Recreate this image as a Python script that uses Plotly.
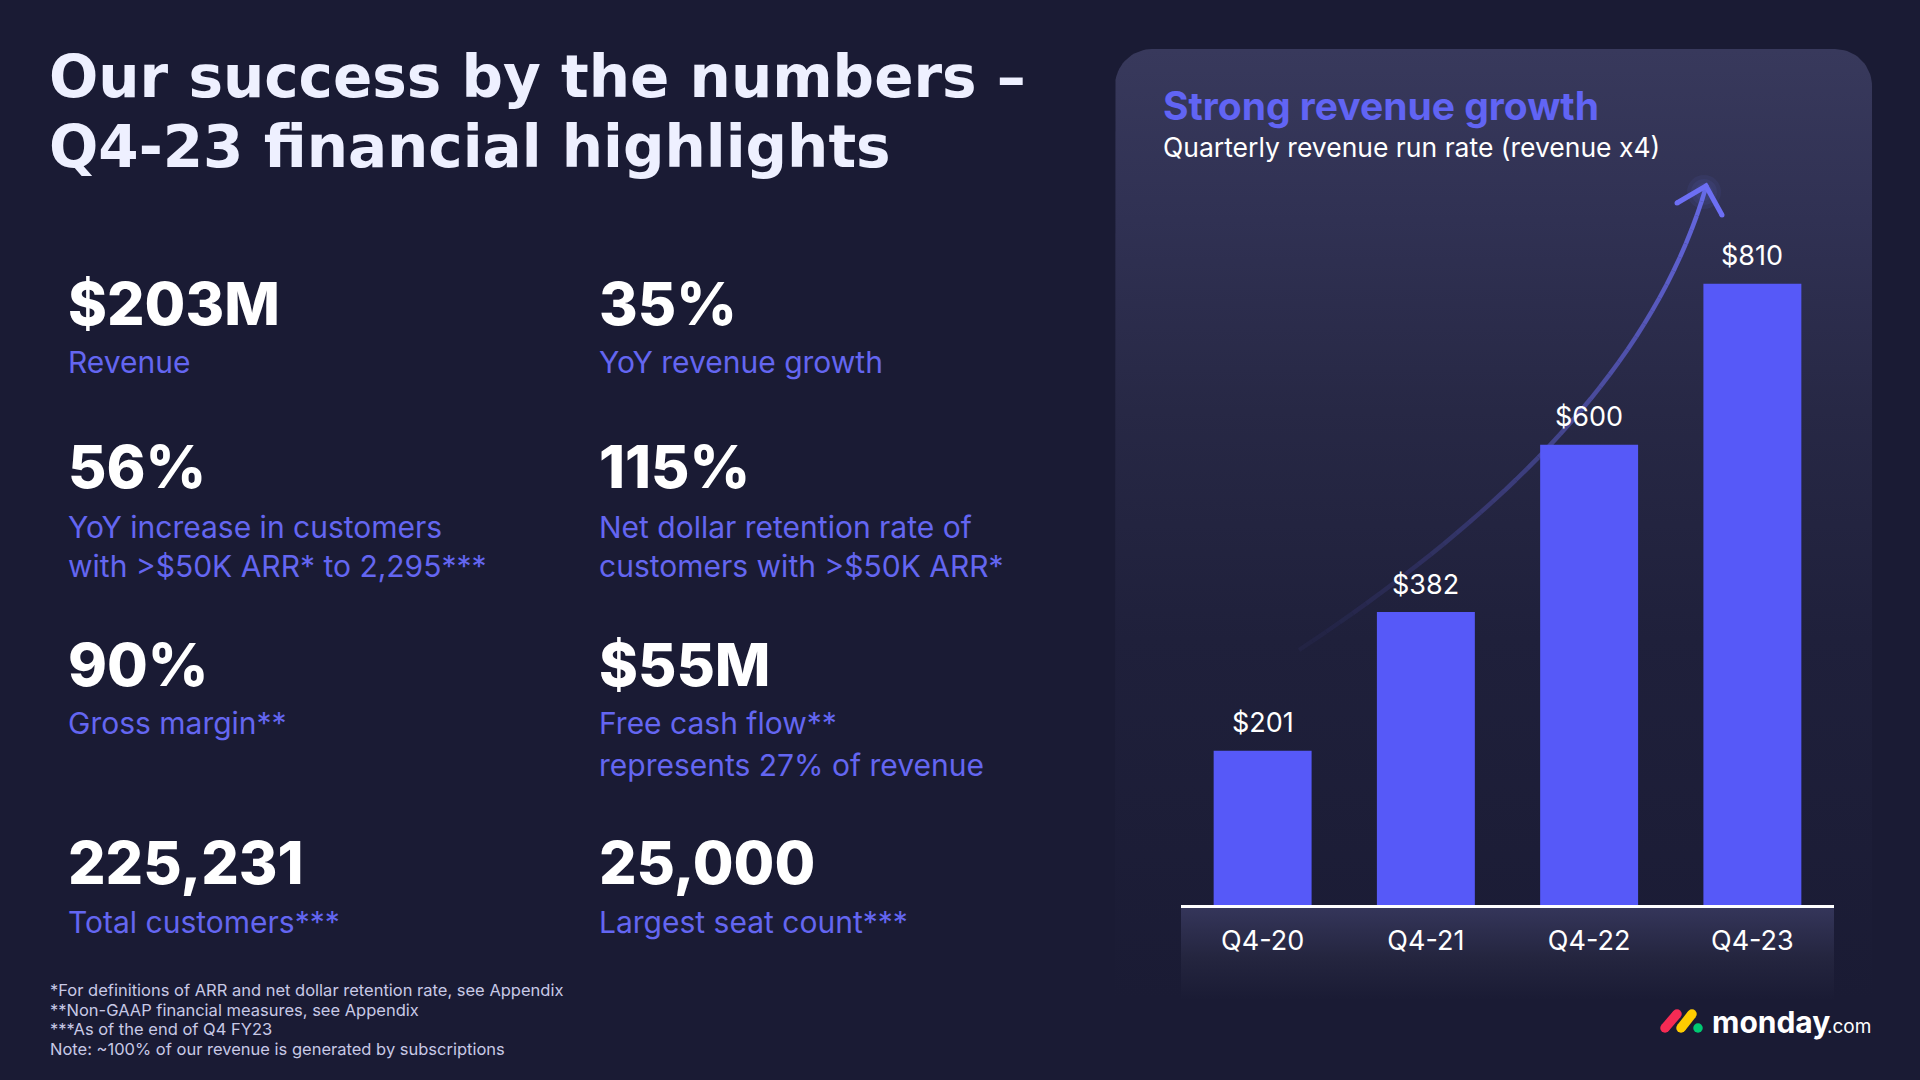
import numpy as np
import plotly.graph_objects as go

# ---------------- data ----------------
quarters = ["Q4-20", "Q4-21", "Q4-22", "Q4-23"]
run_rate = [201, 382, 600, 810]
run_rate_labels = ["$201", "$382", "$600", "$810"]

kpi_values = ["$203M", "35%", "56%", "115%", "90%", "$55M", "225,231", "25,000"]
kpi_labels = [
    ["Revenue"],
    ["YoY revenue growth"],
    ["YoY increase in customers", "with >$50K ARR* to 2,295***"],
    ["Net dollar retention rate of", "customers with >$50K ARR*"],
    ["Gross margin**"],
    ["Free cash flow**", "represents 27% of revenue"],
    ["Total customers***"],
    ["Largest seat count***"],
]
footnotes = [
    "*For definitions of ARR and net dollar retention rate, see Appendix",
    "**Non-GAAP financial measures, see Appendix",
    "***As of the end of Q4 FY23",
    "Note: ~100% of our revenue is generated by subscriptions",
]
title_lines = ["Our success by the numbers \u2013", "Q4-23 financial highlights"]
panel_title = "Strong revenue growth"
panel_subtitle = "Quarterly revenue run rate (revenue x4)"

# ---------------- style ----------------
W, H = 1920, 1080
BG = "#1a1b34"
BAR = "#5659f8"
ACCENT = "#6466f1"
FONT = "Inter"
TITLE_FONT = "DejaVu Sans"

fig = go.Figure()

# --- pixel-space helper subplot (xy) for decorative panel ---
r = 37
x0p, x1p, y0p, y1p = 1115, 1872, 49, 1000
ang = np.linspace(np.pi, 1.5 * np.pi, 20)
left_arc_x = x0p + r + r * np.cos(ang)
left_arc_y = y0p + r + r * np.sin(ang)
ang2 = np.linspace(1.5 * np.pi, 2 * np.pi, 20)
right_arc_x = x1p - r + r * np.cos(ang2)
right_arc_y = y0p + r + r * np.sin(ang2)
px = np.concatenate([[x0p], left_arc_x, right_arc_x, [x1p, x0p]])
py = np.concatenate([[y1p], left_arc_y, right_arc_y, [y1p, y1p]])
fig.add_trace(go.Scatter(
    x=px, y=py, mode="lines", fill="toself", line=dict(width=0, color="rgba(0,0,0,0)"),
    fillgradient=dict(type="vertical", start=y0p, stop=y1p,
                      colorscale=[[0, "#38395c"], [0.18, "#303153"], [0.38, "#272845"],
                                  [0.62, "#1f203b"], [1, BG]]),
    hoverinfo="skip", showlegend=False, xaxis="x", yaxis="y"))

# band below the axis
bx = [1181, 1834, 1834, 1181, 1181]
by = [906, 906, 1000, 1000, 906]
fig.add_trace(go.Scatter(
    x=bx, y=by, mode="lines", fill="toself", line=dict(width=0, color="rgba(0,0,0,0)"),
    fillgradient=dict(type="vertical", start=906, stop=1000,
                      colorscale=[[0, "#35365b"], [0.55, "#24253f"], [1, BG]]),
    hoverinfo="skip", showlegend=False, xaxis="x", yaxis="y"))

# growth arrow (decorative, fading bezier)
P0, P1, P2, P3 = np.array([1299, 650]), np.array([1480, 530]), np.array([1650, 380]), np.array([1706, 187])
ts = np.linspace(0, 1, 121)
pts = np.array([(1 - t) ** 3 * P0 + 3 * (1 - t) ** 2 * t * P1 + 3 * (1 - t) * t ** 2 * P2 + t ** 3 * P3 for t in ts])
nseg = 40
step = (len(pts) - 1) // nseg
for i in range(nseg):
    seg = pts[i * step:(i + 1) * step + 1]
    a = 0.05 + 0.85 * (i / (nseg - 1)) ** 1.3
    fig.add_trace(go.Scatter(x=seg[:, 0], y=seg[:, 1], mode="lines",
                             line=dict(color=f"rgba(108,110,242,{a:.3f})", width=4.5),
                             hoverinfo="skip", showlegend=False, xaxis="x", yaxis="y"))
# soft glow + arrow head
for sz in (34, 26, 18):
    fig.add_trace(go.Scatter(x=[1704], y=[192], mode="markers",
                             marker=dict(size=sz, color="rgba(120,122,250,0.07)", line=dict(width=0)),
                             hoverinfo="skip", showlegend=False, xaxis="x", yaxis="y"))
fig.add_trace(go.Scatter(x=[1677, 1706, 1722], y=[203, 186, 215], mode="lines+markers",
                         line=dict(color="#6d6ff4", width=5),
                         marker=dict(size=5, color="#6d6ff4"),
                         hoverinfo="skip", showlegend=False, xaxis="x", yaxis="y"))

# logo mark
for (xa, ya, xb, yb, c) in [(1665, 1028, 1677, 1014, "#f62b54"), (1681, 1028, 1692, 1014, "#ffcc00")]:
    fig.add_trace(go.Scatter(x=[xa, xb], y=[ya, yb], mode="lines+markers",
                             line=dict(color=c, width=9.5), marker=dict(size=9.5, color=c),
                             hoverinfo="skip", showlegend=False, xaxis="x", yaxis="y"))
fig.add_trace(go.Scatter(x=[1698], y=[1028], mode="markers", marker=dict(size=9.5, color="#00ca72"),
                         hoverinfo="skip", showlegend=False, xaxis="x", yaxis="y"))

# --- bar chart (x2y2) ---
fig.add_trace(go.Bar(
    x=quarters, y=run_rate, xaxis="x2", yaxis="y2",
    marker=dict(color=BAR, line=dict(width=0)), width=0.6,
    hoverinfo="skip", showlegend=False))

annotations = []
for q, v, lab in zip(quarters, run_rate, run_rate_labels):
    annotations.append(dict(x=q, y=v, xref="x2", yref="y2", text=lab, showarrow=False,
                            yanchor="middle", xanchor="center", yshift=28,
                            font=dict(family=FONT, size=27, color="white")))


def ann(x, y, text, size, color, weight=400, xanchor="left", family=FONT):
    annotations.append(dict(x=x / W, y=1 - y / H, xref="paper", yref="paper", text=text,
                            showarrow=False, xanchor=xanchor, yanchor="middle", align="left",
                            font=dict(family=family, size=size, color=color, weight=weight)))


# title
ann(47, 77, title_lines[0], 58, "#eef0ff", 700, family=TITLE_FONT)
ann(47, 147, title_lines[1], 58, "#eef0ff", 700, family=TITLE_FONT)

# KPIs
col_x = [66, 597]
row_big_y = [303, 467, 664, 862]
row_lab_y = [362, 527, 723, 922]
line_gap = [0, 39, 42, 0]
for i, (val, labs) in enumerate(zip(kpi_values, kpi_labels)):
    row, col = i // 2, i % 2
    ann(col_x[col], row_big_y[row], val, 59, "white", 800)
    for j, l in enumerate(labs):
        ann(col_x[col], row_lab_y[row] + j * line_gap[row], l, 30, ACCENT, 400)

# panel texts
ann(1161, 106, panel_title, 39, "#6164f4", 700)
ann(1161, 147, panel_subtitle, 26.5, "white", 400)

# footnotes
for k, t in enumerate(footnotes):
    ann(48, 990 + k * 19.6, t, 16.5, "#c8c9e6", 400)

# logo text
ann(1710, 1022, "monday", 30, "white", 700)
ann(1873, 1026, ".com", 19, "white", 400, xanchor="right")

fig.update_layout(
    width=W, height=H, margin=dict(l=0, r=0, t=0, b=0),
    paper_bgcolor=BG, plot_bgcolor="rgba(0,0,0,0)",
    showlegend=False, annotations=annotations,
    xaxis=dict(domain=[0, 1], range=[0, W], visible=False, fixedrange=True),
    yaxis=dict(domain=[0, 1], range=[H, 0], visible=False, fixedrange=True),
    xaxis2=dict(domain=[1181 / W, 1834 / W], anchor="y2", type="category",
                showline=True, linecolor="white", linewidth=2.5, showgrid=False,
                zeroline=False, ticks="", ticklabelstandoff=10,
                tickfont=dict(family=FONT, size=27, color="white"), fixedrange=True),
    yaxis2=dict(domain=[1 - 905 / H, 1 - 184 / H], anchor="x2", range=[0, 940],
                visible=False, fixedrange=True),
    bargap=0.4,
)

fig.write_html("out.html", config={"displayModeBar": False},
               post_script="document.body.style.margin='0';document.body.style.overflow='hidden';")
